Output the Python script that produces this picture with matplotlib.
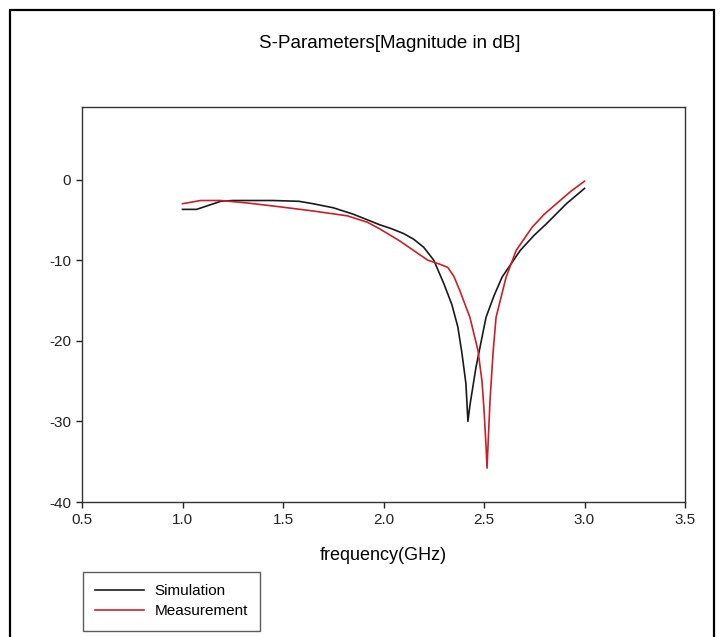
import matplotlib
matplotlib.use("Agg")
import matplotlib.pyplot as plt
from matplotlib.patches import Rectangle

plt.rcParams['font.family'] = ['Liberation Sans', 'DejaVu Sans']
plt.rcParams['axes.unicode_minus'] = False

# values
sim_freq = [1.00, 1.07, 1.13, 1.19, 1.25, 1.35, 1.45, 1.58, 1.65, 1.75, 1.85, 1.92,
            1.98, 2.04, 2.10, 2.15, 2.20, 2.25, 2.30, 2.34, 2.37, 2.39, 2.41, 2.42,
            2.43, 2.46, 2.51, 2.55, 2.59, 2.68, 2.75, 2.81, 2.91, 3.00]
sim_db = [-3.7, -3.7, -3.2, -2.7, -2.6, -2.6, -2.6, -2.7, -3.0, -3.5, -4.3, -5.0,
          -5.6, -6.1, -6.7, -7.4, -8.4, -10.0, -12.9, -15.5, -18.3, -21.5, -25.3, -30.0,
          -28.0, -23.3, -17.1, -14.4, -12.1, -8.8, -6.9, -5.5, -3.0, -1.1]

meas_freq = [1.00, 1.09, 1.19, 1.32, 1.49, 1.65, 1.82, 1.92, 1.98, 2.08, 2.15, 2.22,
             2.28, 2.32, 2.35, 2.38, 2.43, 2.47, 2.49, 2.50, 2.51, 2.515, 2.52, 2.53,
             2.545, 2.56, 2.61, 2.66, 2.74, 2.80, 2.86, 2.93, 3.00]
meas_db = [-3.0, -2.6, -2.6, -2.9, -3.4, -3.9, -4.5, -5.3, -6.1, -7.6, -8.8, -10.0,
           -10.5, -10.9, -12.0, -13.8, -17.1, -21.2, -25.0, -28.5, -33.0, -35.8, -33.0, -27.4,
           -21.5, -17.1, -12.1, -8.8, -5.9, -4.3, -3.0, -1.5, -0.2]

xticks = [0.5, 1.0, 1.5, 2.0, 2.5, 3.0, 3.5]
yticks = [-40, -30, -20, -10, 0]

W, H = 724, 637
fig = plt.figure(figsize=(W / 100, H / 100), dpi=100)

# outer frame round the whole figure
fig.patches.append(Rectangle((10 / W, -0.02), 704 / W, 1.02 - 10 / H,
                             transform=fig.transFigure, fill=False,
                             edgecolor='black', linewidth=1.6))

ax = fig.add_axes([82 / W, 1 - 502 / H, (685 - 82) / W, (502 - 107) / H])

ax.plot(sim_freq, sim_db, color='#1a1a1a', lw=1.2, label='Simulation')
ax.plot(meas_freq, meas_db, color='#c8202a', lw=1.2, label='Measurement')

ax.set_xlim(0.5, 3.5)
ax.set_ylim(-40, 9)
ax.set_xticks(xticks)
ax.set_xticklabels(['%.1f' % v for v in xticks])
ax.set_yticks(yticks)
ax.tick_params(direction='out', length=4, width=1, labelsize=11, colors='#222222',
               top=False, right=False, pad=4)
for sp in ax.spines.values():
    sp.set_linewidth(1.0)
    sp.set_color('#333333')

ax.set_xlabel('frequency(GHz)', fontsize=13, labelpad=14)
fig.text(390 / W, 1 - 43 / H, 'S-Parameters[Magnitude in dB]', fontsize=13.5,
         ha='center', va='center')

leg = fig.legend(loc='upper left', bbox_to_anchor=(83 / W, 1 - 572 / H),
                 borderaxespad=0, fontsize=11, frameon=True, fancybox=False,
                 handlelength=3.2, borderpad=0.8, labelspacing=0.4, handletextpad=0.7)
leg.get_frame().set_edgecolor('#333333')
leg.get_frame().set_linewidth(1.0)

fig.savefig('out.png', dpi=100)
